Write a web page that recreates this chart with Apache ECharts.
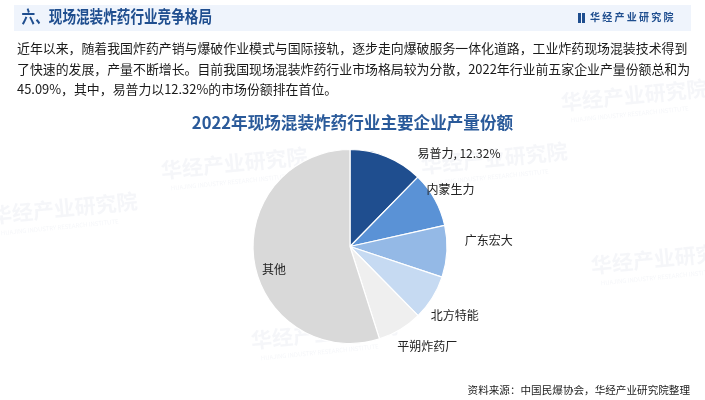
<!DOCTYPE html>
<html><head><meta charset="utf-8">
<script src="https://cdn.jsdelivr.net/npm/echarts@6/dist/echarts.min.js"></script>
<style>html,body{margin:0;padding:0;background:#fff}#c{width:705px;height:400px}</style>
</head><body><div id="c"></div>
<script>
const companies = ['易普力','内蒙生力','广东宏大','北方特能','平朔炸药厂','其他'];
const shares = [12.32, 9.2, 8.6, 7.5, 7.47, 54.91];
const colors = ['#1f4e8f','#5a92d6','#94b9e6','#c6daf2','#efefef','#d9d9d9'];
const headerTitle = '六、现场混装炸药行业竞争格局';
const brand = '华经产业研究院';
const paragraph = [
 '近年以来，随着我国炸药产销与爆破作业模式与国际接轨，逐步走向爆破服务一体化道路，工业炸药现场混装技术得到',
 '了快速的发展，产量不断增长。目前我国现场混装炸药行业市场格局较为分散，2022年行业前五家企业产量份额总和为',
 '45.09%，其中，易普力以12.32%的市场份额排在首位。'
];
const chartTitle = '2022年现场混装炸药行业主要企业产量份额';
const source = '资料来源：中国民爆协会，华经产业研究院整理';

const FONT = '"Noto Sans CJK SC","Noto Sans",sans-serif';
const chart = echarts.init(document.getElementById('c'));

// label nudges (layout only)
const labelNudge = [[22,6],[-22,-5],[3,-12],[-15,12],[-13,8],[-25,15]];

const watermarks = [[160,160],[-10,205],[560,92],[590,255],[250,330],[420,155]];
const graphic = [];
watermarks.forEach(p=>{
  graphic.push({type:'group', x:p[0], y:p[1], rotation:0.1, silent:true, z:0, children:[
    {type:'text', x:0, y:0, style:{text:brand, fill:'rgba(190,200,215,0.16)', font:'bold 21px '+FONT}},
    {type:'text', x:8, y:26, style:{text:'HUAJING INDUSTRY RESEARCH INSTITUTE', fill:'rgba(190,200,215,0.16)', font:'6px '+FONT}}
  ]});
});
graphic.push(
  {type:'rect', shape:{x:14,y:5,width:677,height:26}, style:{fill:'#eff4fc'}, z:1},
  {type:'text', x:18, y:8, scaleX:0.8, originX:18, originY:8, z:2, style:{text:headerTitle, fill:'#1f4e8f', font:'bold 17px '+FONT}},
  {type:'rect', shape:{x:578,y:13,width:3,height:10}, style:{fill:'#1f4e8f'}, z:2},
  {type:'rect', shape:{x:582,y:13,width:3,height:10}, style:{fill:'#1f4e8f'}, z:2},
  {type:'text', x:590, y:12, z:2, style:{text:brand.split('').join(' '), fill:'#1f4e8f', font:'bold 10px '+FONT}},
);
paragraph.forEach((t,i)=>{
  graphic.push({type:'text', x:17, y:42+i*20.5, z:2, style:{text:t, fill:'#1a1a1a', font:'12.9px '+FONT}});
});
graphic.push(
  {type:'text', left:'center', top:114, z:2, style:{text:chartTitle, fill:'#2a5a9a', font:'bold 16.6px '+FONT}},
  {type:'text', right:15, top:385, z:2, style:{text:source, fill:'#222', font:'10.6px '+FONT}}
);

chart.setOption({
  animation:false,
  graphic: graphic,
  series:[{
    type:'pie', center:[350,246.5], radius:[0,97], startAngle:90, clockwise:true,
    itemStyle:{borderColor:'#fff', borderWidth:1.2},
    label:{show:true, position:'outside', color:'#222', fontSize:12, fontFamily:FONT,
      formatter:p=>p.dataIndex===0 ? p.name+', '+p.value.toFixed(2)+'%' : p.name},
    labelLine:{show:false, length:10, length2:0},
    labelLayout: p => ({dx:labelNudge[p.dataIndex][0], dy:labelNudge[p.dataIndex][1]}),
    emphasis:{disabled:true},
    data: companies.map((n,i)=>{
      const d = {name:n, value:shares[i], itemStyle:{color:colors[i]}};
      if(i===5) d.label = {position:'inside', color:'#222'};
      return d;
    })
  }]
});
</script></body></html>
